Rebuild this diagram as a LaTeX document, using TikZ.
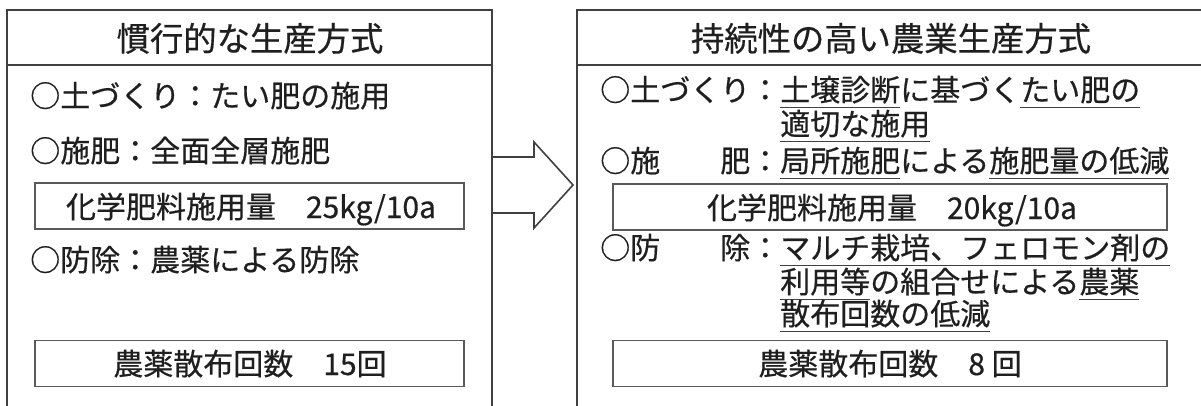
\documentclass[tikz,border=0pt]{standalone}
\usepackage{fontspec}
\setmainfont{Noto Sans CJK JP}[FakeBold=0.5]
\definecolor{linecol}{gray}{0.25}
\definecolor{boxcol}{gray}{0.35}
\definecolor{txtcol}{gray}{0.12}
\newsavebox\ulbox
\newcommand\ulseg[1]{\sbox\ulbox{#1}\rlap{\color{linecol}\rule[-5.6pt]{\wd\ulbox}{1pt}}\usebox\ulbox}
\begin{document}
\begin{tikzpicture}[x=0.75pt,y=-0.75pt,
  frame/.style={draw=linecol, line width=1.5pt},
  iboxl/.style={draw=boxcol, line width=1.2pt, minimum width=321.75pt, minimum height=34.5pt, inner sep=0pt},
  iboxr/.style={draw=boxcol, line width=1.2pt, minimum width=415.5pt, minimum height=34.5pt, inner sep=0pt},
  body/.style={anchor=base west, inner sep=0pt, text=txtcol, font=\fontsize{22.5pt}{27pt}\selectfont},
  btxt/.style={anchor=base, inner sep=0pt, text=txtcol, font=\fontsize{22.5pt}{27pt}\selectfont},
  ttl/.style={anchor=base, inner sep=0pt, text=txtcol, font=\fontsize{25pt}{30pt}\selectfont},
  blockarrow/.style={draw=linecol, line width=1.2pt, line join=miter}
]
\useasboundingbox (0,0) rectangle (1201,405);
\fill[white] (0,0) rectangle (1201,405);
\clip (0,0) rectangle (1201,405);

% outer frames
\coordinate (L1) at (7,420);
\coordinate (L2) at (7,10);
\coordinate (L3) at (492,10);
\coordinate (L4) at (492,420);
\coordinate (LS1) at (7,65);
\coordinate (LS2) at (492,65);
\draw[frame] (L1) -- (L2) -- (L3) -- (L4);
\draw[frame] (LS1) -- (LS2);

\coordinate (R1) at (577,420);
\coordinate (R2) at (577,10);
\coordinate (R3) at (1215,10);
\coordinate (RS1) at (577,65);
\coordinate (RS2) at (1215,65);
\draw[frame] (R1) -- (R2) -- (R3);
\draw[frame] (RS1) -- (RS2);

% block arrow
\coordinate (A1) at (492,157);
\coordinate (A2) at (534,157);
\coordinate (A3) at (534,142);
\coordinate (A4) at (573,185);
\coordinate (A5) at (534,228);
\coordinate (A6) at (534,213);
\coordinate (A7) at (492,213);
\draw[blockarrow] (A1) -- (A2) -- (A3) -- (A4) -- (A5) -- (A6) -- (A7);

% left column
\node[ttl] (ltitle) at (250,51) {慣行的な生産方式};
\node[body] (l1) at (30,107) {○土づくり：たい肥の施用};
\node[body] (l2) at (30,162) {○施肥：全面全層施肥};
\node[iboxl] (lb1) at (249.5,206) {};
\node[btxt] (lb1t) at (251,218) {化学肥料施用量　25kg/10a};
\node[body] (l3) at (30,271) {○防除：農薬による防除};
\node[iboxl] (lb2) at (249.5,363.5) {};
\node[btxt] (lb2t) at (250,375) {農薬散布回数　15回};

% right column
\node[ttl] (rtitle) at (891,51) {持続性の高い農業生産方式};
\node[body] (r1) at (600,101) {○土づくり：\ulseg{土壌診断}に基づく\ulseg{たい肥の}};
\node[body] (r2) at (780,135) {\ulseg{適切な施用}};
\node[body] (r3) at (600,172) {○施　　肥：\ulseg{局所施肥}による\ulseg{施肥量の低減}};
\node[iboxr] (rb1) at (890,207) {};
\node[btxt] (rb1t) at (892,219) {化学肥料施用量　20kg/10a};
\node[body] (r4) at (600,259) {○防　　除：\ulseg{マルチ栽培、フェロモン剤の}};
\node[body] (r5) at (780,293) {\ulseg{利用等}の組合せによる\ulseg{農薬}};
\node[body] (r6) at (780,325) {\ulseg{散布回数の低減}};
\node[iboxr] (rb2) at (890,363.5) {};
\node[btxt] (rb2t) at (890,375) {農薬散布回数　8 回};
\end{tikzpicture}
\end{document}
